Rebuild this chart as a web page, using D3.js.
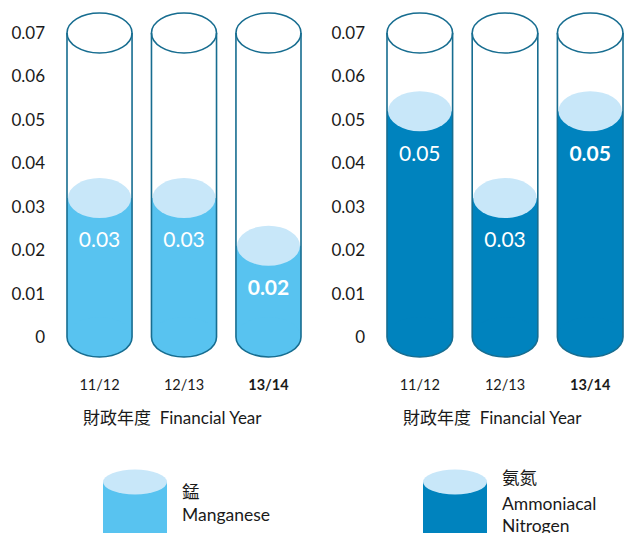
<!DOCTYPE html>
<html>
<head>
<meta charset="utf-8">
<script src="https://cdn.jsdelivr.net/npm/d3@7"></script>
<style>
    body { margin: 0; background: #fff; }
    svg text { font-family: Lato, "Noto Sans CJK TC", sans-serif; }
</style>
</head>
<body>
<svg id="chart" width="624" height="533"></svg>
<script>
// data
const years = ['11/12', '12/13', '13/14'];
const manganese = [0.032, 0.032, 0.021];
const ammonia = [0.052, 0.032, 0.052];
const yTicks = [0, 0.01, 0.02, 0.03, 0.04, 0.05, 0.06, 0.07];
const xTitle = '財政年度  Financial Year';

const colors = {
    outline: '#176d90',
    surface: '#c8e7f9',
    light: '#58c3f0',
    dark: '#0083be'
};

const svg = d3.select('#chart');
const fmt = d3.format('.2f');

const y = d3.scaleLinear()
    .domain([0, 0.07])
    .range([337, 33]);

const ry = 20;

function drawPanel(offset, values, fill, rangeEnd) {
    const g = svg.append('g')
        .attr('transform', `translate(${offset}, 0)`);

    const x = d3.scaleBand()
        .domain(years)
        .range([67, rangeEnd])
        .paddingInner(0.23)
        .paddingOuter(0);

    const bw = x.bandwidth();
    const rx = bw / 2;

    // y axis
    const axisY = d3.axisLeft(y)
        .tickValues(yTicks)
        .tickSize(0)
        .tickPadding(0)
        .tickFormat(d => d === 0 ? '0' : fmt(d));

    g.append('g')
        .attr('class', 'axis axis-y')
        .attr('transform', 'translate(45, 0)')
        .call(axisY)
        .call(a => a.select('.domain').remove())
        .selectAll('text')
        .attr('font-size', 17)
        .attr('fill', '#1a1a1a')
        .attr('font-family', 'Lato, sans-serif');

    // x axis
    const axisX = d3.axisBottom(x)
        .tickSize(0)
        .tickPadding(0);

    g.append('g')
        .attr('class', 'axis axis-x')
        .attr('transform', 'translate(0, 380)')
        .call(axisX)
        .call(a => a.select('.domain').remove())
        .selectAll('text')
        .attr('font-size', 14.5)
        .attr('fill', '#1a1a1a')
        .attr('font-weight', d => d === '13/14' ? 700 : 400)
        .attr('font-family', 'Lato, sans-serif');

    g.append('text')
        .attr('x', 83)
        .attr('y', 424)
        .attr('font-size', 17)
        .attr('fill', '#1a1a1a')
        .style('white-space', 'pre')
        .text(xTitle);

    const data = years.map((k, i) => ({ key: k, value: values[i], i: i }));

    const tube = g.selectAll('.tube')
        .data(data)
        .join('g')
        .attr('class', 'tube');

    // liquid body
    tube.append('rect')
        .attr('x', d => x(d.key))
        .attr('y', d => y(d.value))
        .attr('width', bw)
        .attr('height', d => y(0) - y(d.value))
        .attr('fill', fill);

    tube.append('ellipse')
        .attr('cx', d => x(d.key) + rx)
        .attr('cy', y(0))
        .attr('rx', rx)
        .attr('ry', ry)
        .attr('fill', fill);

    // liquid surface
    tube.append('ellipse')
        .attr('cx', d => x(d.key) + rx)
        .attr('cy', d => y(d.value))
        .attr('rx', rx - 1)
        .attr('ry', ry)
        .attr('fill', colors.surface);

    // outline
    tube.append('path')
        .attr('d', d => {
            const x0 = x(d.key), x1 = x0 + bw;
            return `M${x0},${y(0.07)} L${x0},${y(0)} A${rx},${ry} 0 0 0 ${x1},${y(0)} L${x1},${y(0.07)}`;
        })
        .attr('fill', 'none')
        .attr('stroke', colors.outline)
        .attr('stroke-width', 1.6);

    tube.append('ellipse')
        .attr('cx', d => x(d.key) + rx)
        .attr('cy', y(0.07))
        .attr('rx', rx)
        .attr('ry', ry)
        .attr('fill', 'none')
        .attr('stroke', colors.outline)
        .attr('stroke-width', 1.6);

    // value labels
    tube.append('text')
        .attr('x', d => x(d.key) + rx)
        .attr('y', d => y(d.value) + 42)
        .attr('dy', '0.35em')
        .attr('text-anchor', 'middle')
        .attr('font-size', 21)
        .attr('font-weight', d => d.key === '13/14' ? 700 : 400)
        .attr('fill', '#fff')
        .text(d => fmt(d.value));
}

drawPanel(0, manganese, colors.light, 301);
drawPanel(320, ammonia, colors.dark, 303);

// legend
const legend = [
    { x: 103, fill: colors.light, lines: [['錳', 492], ['Manganese', 515]] },
    { x: 423, fill: colors.dark, lines: [['氨氮', 478], ['Ammoniacal', 504], ['Nitrogen', 526]] }
];

const leg = svg.selectAll('.legend')
    .data(legend)
    .join('g')
    .attr('class', 'legend');

leg.append('rect')
    .attr('x', d => d.x)
    .attr('y', 482)
    .attr('width', 64)
    .attr('height', 60)
    .attr('fill', d => d.fill);

leg.append('ellipse')
    .attr('cx', d => d.x + 32)
    .attr('cy', 482)
    .attr('rx', 32)
    .attr('ry', 12.5)
    .attr('fill', colors.surface);

leg.selectAll('text')
    .data(d => d.lines.map(l => ({ t: l[0], y: l[1], x: d.x + 79 })))
    .join('text')
    .attr('x', d => d.x)
    .attr('y', d => d.y)
    .attr('dy', '0.35em')
    .attr('font-size', 17.5)
    .attr('fill', '#1a1a1a')
    .text(d => d.t);
</script>
</body>
</html>
